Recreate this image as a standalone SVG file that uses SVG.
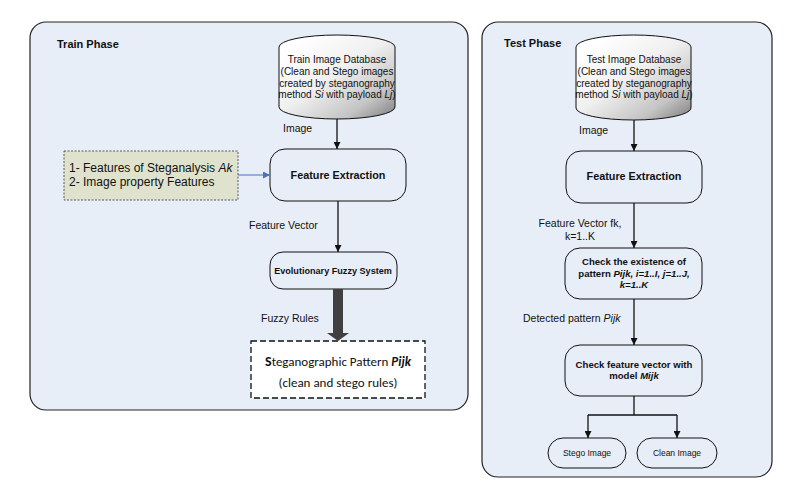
<svg xmlns="http://www.w3.org/2000/svg" width="802" height="492" viewBox="0 0 802 492">
<style>
.panel{fill:#e8eef8;stroke:#222;stroke-width:1.2}
.box{fill:#e8eef8;stroke:#111;stroke-width:1}
.t{font-family:"Liberation Sans",Arial,sans-serif;fill:#111}
.lbl{font-size:10.5px}
.b{font-weight:bold}
.title{font-weight:bold;font-size:11px}
.db{font-size:10px}
.conn{stroke:#111;stroke-width:1.3;fill:none}
</style>
<defs>
<marker id="ah" viewBox="0 0 10 10" refX="10" refY="5" markerWidth="7" markerHeight="7" markerUnits="userSpaceOnUse" orient="auto">
<path d="M0,0 L10,5 L0,10 z" fill="#111"/>
</marker>
<marker id="ahb" viewBox="0 0 10 10" refX="10" refY="5" markerWidth="7" markerHeight="7" markerUnits="userSpaceOnUse" orient="auto">
<path d="M0,0 L10,5 L0,10 z" fill="#4472c4"/>
</marker>
<linearGradient id="cyl" x1="0.15" y1="0.1" x2="1" y2="1">
<stop offset="0" stop-color="#ffffff"/>
<stop offset="0.4" stop-color="#f0f0f0"/>
<stop offset="0.75" stop-color="#c4c4c4"/>
<stop offset="1" stop-color="#7c7c7c"/>
</linearGradient>
</defs>

<g id="train-panel">
<rect class="panel" x="30" y="22" width="438" height="388" rx="16"/>
<text class="t title" x="57" y="48">Train Phase</text>
</g>
<g id="test-panel">
<rect class="panel" x="482" y="22" width="290" height="455" rx="16"/>
<text class="t title" x="504" y="47">Test Phase</text>
</g>

<g id="train-db">
<path d="M279,47 A58,12 0 0 1 395,47 L395,107 A58,12 0 0 1 279,107 Z" fill="url(#cyl)" stroke="#111" stroke-width="1"/>
<text class="t db" text-anchor="middle"><tspan x="337" y="63">Train Image Database</tspan><tspan x="337" y="75">(Clean and Stego images</tspan><tspan x="337" y="87">created by steganography</tspan><tspan x="337" y="98">method <tspan font-style="italic">Si</tspan> with payload <tspan font-style="italic">Lj</tspan>)</tspan></text>
</g>

<g id="train-features">
<rect x="64" y="151" width="174" height="49" fill="#dfe3cd" stroke="#333" stroke-width="0.8" stroke-dasharray="2,1.5"/>
<text class="t" font-size="12"><tspan x="69" y="172">1- Features of Steganalysis <tspan font-style="italic">Ak</tspan></tspan><tspan x="69" y="186">2- Image property Features</tspan></text>
</g>

<g id="train-fe">
<rect class="box" x="270" y="149" width="136" height="52" rx="15"/>
<text class="t b" x="338" y="179" text-anchor="middle" style="font-size:10.8px">Feature Extraction</text>
</g>

<g id="train-efs">
<rect class="box" x="270" y="252" width="127" height="37" rx="13"/>
<text class="t b" x="333" y="274" text-anchor="middle" style="font-size:9.1px">Evolutionary Fuzzy System</text>
</g>

<g id="train-pattern">
<rect x="251" y="341" width="174" height="57" fill="#ffffff" stroke="#111" stroke-width="1.3" stroke-dasharray="6,3"/>
<text font-family="Carlito,Lato,'Open Sans',sans-serif" font-size="13" fill="#111" text-anchor="middle"><tspan x="338" y="366"><tspan font-weight="bold" font-size="14">S</tspan>teganographic Pattern <tspan font-style="italic" font-weight="bold">Pijk</tspan></tspan><tspan x="338" y="387">(clean and stego rules)</tspan></text>
</g>

<g id="test-db">
<path d="M576,47 A57.5,12 0 0 1 691,47 L691,108 A57.5,12 0 0 1 576,108 Z" fill="url(#cyl)" stroke="#111" stroke-width="1"/>
<text class="t db" text-anchor="middle"><tspan x="634" y="63">Test Image Database</tspan><tspan x="634" y="75">(Clean and Stego images</tspan><tspan x="634" y="87">created by steganography</tspan><tspan x="634" y="98">method <tspan font-style="italic">Si</tspan> with payload <tspan font-style="italic">Lj</tspan>)</tspan></text>
</g>

<g id="test-fe">
<rect class="box" x="566" y="151" width="136" height="52" rx="15"/>
<text class="t b" x="634" y="180" text-anchor="middle" style="font-size:10.8px">Feature Extraction</text>
</g>

<g id="test-check">
<rect class="box" x="565" y="248" width="137" height="51" rx="15"/>
<text class="t b" text-anchor="middle" style="font-size:9.6px"><tspan x="634" y="265">Check the existence of</tspan><tspan x="634" y="277">pattern <tspan font-style="italic">Pijk, i=1..I, j=1..J,</tspan></tspan><tspan x="634" y="288" font-style="italic">k=1..K</tspan></text>
</g>

<g id="test-model">
<rect class="box" x="565" y="345" width="137" height="51" rx="15"/>
<text class="t b" text-anchor="middle" style="font-size:9.6px"><tspan x="634" y="368">Check feature vector with</tspan><tspan x="634" y="379">model <tspan font-style="italic">Mijk</tspan></tspan></text>
</g>

<g id="test-stego">
<rect class="box" x="548" y="438" width="78" height="30" rx="15"/>
<text class="t" x="587" y="456" text-anchor="middle" font-size="8.5">Stego Image</text>
</g>
<g id="test-clean">
<rect class="box" x="637" y="438" width="80" height="30" rx="15"/>
<text class="t" x="677" y="456" text-anchor="middle" font-size="8.5">Clean Image</text>
</g>

<g id="connectors">
<line class="conn" x1="337" y1="119" x2="337" y2="149" marker-end="url(#ah)"/>
<text class="t lbl" x="283" y="132">Image</text>
<line x1="238" y1="175" x2="270" y2="175" stroke="#4472c4" stroke-width="1" marker-end="url(#ahb)"/>
<line class="conn" x1="338" y1="201" x2="338" y2="252" marker-end="url(#ah)"/>
<text class="t lbl" x="249" y="229">Feature Vector</text>
<path d="M333,289 L343,289 L343,333 L349,333 L338,341 L327,333 L333,333 Z" fill="#404040"/>
<text class="t lbl" x="261" y="322">Fuzzy Rules</text>

<line class="conn" x1="634" y1="120" x2="634" y2="151" marker-end="url(#ah)"/>
<text class="t lbl" x="579" y="134">Image</text>
<line class="conn" x1="634" y1="203" x2="634" y2="248" marker-end="url(#ah)"/>
<text class="t lbl" text-anchor="middle"><tspan x="580" y="227">Feature Vector fk,</tspan><tspan x="580" y="240">k=1..K</tspan></text>
<line class="conn" x1="634" y1="299" x2="634" y2="345" marker-end="url(#ah)"/>
<text class="t lbl" x="523" y="322">Detected pattern <tspan font-style="italic">Pijk</tspan></text>
<path class="conn" d="M634,396 L634,415"/>
<path class="conn" d="M588,415 L677,415"/>
<line class="conn" x1="588" y1="415" x2="588" y2="438" marker-end="url(#ah)"/>
<line class="conn" x1="677" y1="415" x2="677" y2="438" marker-end="url(#ah)"/>
</g>
</svg>
